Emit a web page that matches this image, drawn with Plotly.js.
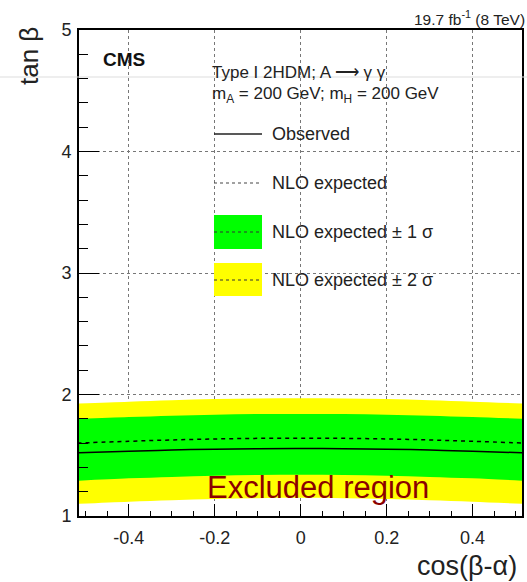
<!DOCTYPE html>
<html>
<head>
<meta charset="utf-8">
<script src="https://cdn.plot.ly/plotly-3.0.1.min.js"></script>
<style>
  html, body { margin: 0; padding: 0; background: #fff; }
  #chart { width: 527px; height: 582px; }
</style>
</head>
<body>
<div id="chart"></div>
<script>
// cos(beta-alpha) scan points
const cosBA = [-0.52, -0.4, -0.3, -0.2, -0.1, 0, 0.1, 0.2, 0.3, 0.4, 0.52];

// tan(beta) exclusion limits
const observed   = [1.52, 1.533, 1.543, 1.550, 1.554, 1.555, 1.554, 1.550, 1.543, 1.533, 1.52];
const expected   = [1.60, 1.615, 1.626, 1.634, 1.639, 1.640, 1.639, 1.634, 1.626, 1.615, 1.60];
const oneSigHi   = [1.80, 1.815, 1.826, 1.834, 1.839, 1.840, 1.839, 1.834, 1.826, 1.815, 1.80];
const oneSigLo   = [1.29, 1.310, 1.322, 1.332, 1.338, 1.340, 1.338, 1.332, 1.322, 1.310, 1.29];
const twoSigHi   = [1.925, 1.940, 1.952, 1.962, 1.968, 1.970, 1.968, 1.962, 1.952, 1.940, 1.925];
const twoSigLo   = [1.10, 1.118, 1.130, 1.140, 1.147, 1.150, 1.147, 1.140, 1.130, 1.118, 1.10];

const xTickVals = [-0.4, -0.2, 0, 0.2, 0.4];
const xTickText = ['-0.4', '-0.2', '0', '0.2', '0.4'];
const yTickVals = [1, 2, 3, 4, 5];
const yTickText = ['1', '2', '3', '4', '5'];

const legendLabels = ['Observed', 'NLO expected', 'NLO expected \u00b1 1 \u03c3', 'NLO expected \u00b1 2 \u03c3'];

const GREEN = '#00ff00';
const YELLOW = '#ffff00';
const FONT = 'Liberation Sans, Arial, Helvetica, sans-serif';

// frame geometry in pixels
const W = 527, H = 582;
const M = { l: 79, r: 5, t: 30, b: 66 };
const PW = W - M.l - M.r, PH = H - M.t - M.b;
const px = x => (x - M.l) / PW;
const py = y => (H - M.b - y) / PH;

const band = (lo, hi, color) => ([
  { x: cosBA, y: lo, mode: 'lines', line: { width: 0, shape: 'spline' }, hoverinfo: 'skip', showlegend: false },
  { x: cosBA, y: hi, mode: 'lines', line: { width: 0, shape: 'spline' }, fill: 'tonexty', fillcolor: color, hoverinfo: 'skip', showlegend: false }
]);

const traces = [
  ...band(twoSigLo, twoSigHi, YELLOW),
  ...band(oneSigLo, oneSigHi, GREEN),
  { x: cosBA, y: expected, mode: 'lines', line: { color: '#000', width: 1.5, dash: '4px,4px', shape: 'spline' }, showlegend: false },
  { x: cosBA, y: observed, mode: 'lines', line: { color: '#000', width: 1.5, shape: 'spline' }, showlegend: false }
];

// hand-drawn legend keys
const lx0 = px(214), lx1 = px(262);
const shapes = [
  { type: 'line', xref: 'paper', yref: 'paper', x0: lx0, x1: lx1, y0: py(134), y1: py(134), line: { color: '#222', width: 1.5 } },
  { type: 'line', xref: 'paper', yref: 'paper', x0: lx0, x1: lx1, y0: py(183), y1: py(183), line: { color: '#444', width: 1.2, dash: '3px,3px' } },
  { type: 'rect', xref: 'paper', yref: 'paper', x0: lx0, x1: lx1, y0: py(249), y1: py(215), fillcolor: GREEN, line: { width: 0 } },
  { type: 'line', xref: 'paper', yref: 'paper', x0: lx0, x1: lx1, y0: py(232), y1: py(232), line: { color: '#333', width: 1.2, dash: '3px,3px' } },
  { type: 'rect', xref: 'paper', yref: 'paper', x0: lx0, x1: lx1, y0: py(296), y1: py(263), fillcolor: YELLOW, line: { width: 0 } },
  { type: 'line', xref: 'paper', yref: 'paper', x0: lx0, x1: lx1, y0: py(280), y1: py(280), line: { color: '#333', width: 1.2, dash: '3px,3px' } },
  { type: 'line', xref: 'paper', yref: 'paper', x0: px(0), x1: px(W), y0: py(77), y1: py(77), line: { color: '#dddddd', width: 1 } }
];

const ann = (text, x, y, size, opts = {}) => Object.assign({
  text, xref: 'paper', yref: 'paper', x: px(x), y: py(y), showarrow: false,
  xanchor: 'left', yanchor: 'middle', font: { family: FONT, size, color: '#222' }
}, opts);

const legendY = [134, 183, 232, 280];
const annotations = [
  ann('<b>CMS</b>', 101, 59, 19, { font: { family: FONT, size: 19, color: '#111' } }),
  ann('19.7 fb<sup>-1</sup> (8 TeV)', 527, 18, 15.5, { xanchor: 'right' }),
  ann('Type I 2HDM; A \u27f6 \u03b3 \u03b3', 210, 72, 17),
  ann('m<sub>A</sub> = 200 GeV; m<sub>H</sub> = 200 GeV', 210, 95, 17),
  ...legendLabels.map((t, i) => ann(t, 270, legendY[i], 18)),
  ann('tan \u03b2', 29, 56, 26, { xanchor: 'center', textangle: -90, font: { family: FONT, size: 26, color: '#222' } }),
  ann('cos(\u03b2-\u03b1)', 519, 566, 27, { xanchor: 'right', font: { family: FONT, size: 27, color: '#222' } }),
  { text: 'Excluded region', xref: 'x', yref: 'y', x: 0.04, y: 1.235, showarrow: false,
    xanchor: 'center', yanchor: 'middle', font: { family: FONT, size: 31, color: '#8b0000' } }
];

const layout = {
  width: W, height: H,
  margin: M,
  paper_bgcolor: '#fff', plot_bgcolor: '#fff',
  showlegend: false,
  xaxis: {
    range: [-0.516, 0.515], tickmode: 'array', tickvals: xTickVals, ticktext: xTickText,
    ticks: 'inside', ticklen: 12, tickwidth: 1, tickcolor: '#000',
    minor: { ticks: 'inside', ticklen: 5, dtick: 0.05, tick0: 0, tickcolor: '#000', showgrid: false },
    showline: true, linewidth: 2, linecolor: '#000', mirror: true,
    showgrid: true, gridcolor: '#777', griddash: 'dot', gridwidth: 1,
    zeroline: false, tickfont: { family: FONT, size: 18, color: '#222' }, ticklabelstandoff: 4
  },
  yaxis: {
    range: [1, 5], tickmode: 'array', tickvals: yTickVals, ticktext: yTickText,
    ticks: 'inside', ticklen: 20, tickwidth: 1, tickcolor: '#000',
    minor: { ticks: 'inside', ticklen: 9, dtick: 0.2, tick0: 0, tickcolor: '#000', showgrid: false },
    showline: true, linewidth: 2, linecolor: '#000', mirror: true,
    showgrid: true, gridcolor: '#777', griddash: 'dot', gridwidth: 1,
    zeroline: false, tickfont: { family: FONT, size: 18, color: '#222' }, ticklabelstandoff: 2
  },
  shapes, annotations
};

Plotly.newPlot('chart', traces, layout, { staticPlot: true, displayModeBar: false });
</script>
</body>
</html>
